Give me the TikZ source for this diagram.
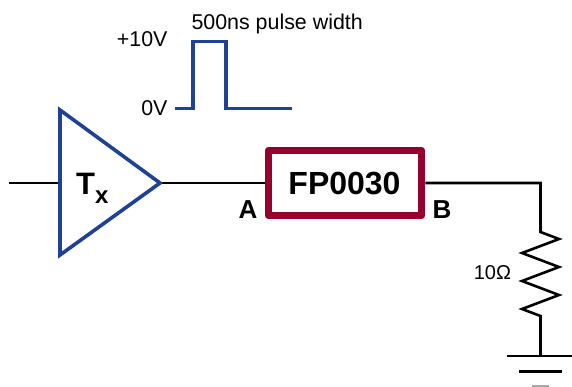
\documentclass[tikz,border=0pt]{standalone}
\usepackage{fontspec}
\setmainfont{Liberation Sans}
\definecolor{pulseblue}{RGB}{31,66,150}
\definecolor{boxred}{RGB}{150,0,46}
\tikzset{
  wire/.style={draw=black,line width=2.6pt,line cap=butt,line join=miter},
  bluepath/.style={draw=pulseblue,line width=3.6pt,line join=miter},
  lab/.style={inner sep=0pt,outer sep=0pt,text=black},
  boxstyle/.style={draw=boxred,line width=7.5pt,line join=round,fill=white,minimum width=153pt,minimum height=65pt,inner sep=0pt},
}
\begin{document}
\begin{tikzpicture}[x=1pt,y=-1pt]
\useasboundingbox (0,0) rectangle (572,386);
\fill[white] (0,0) rectangle (572,386);
% connection points
\coordinate (in) at (9,183);
\coordinate (tl) at (60,110);
\coordinate (bl) at (60,255);
\coordinate (tip) at (160,183);
\coordinate (tm) at (60,183);
\coordinate (corner) at (540.5,183);
\coordinate (rtop) at (540.5,232);
\coordinate (rbot) at (540.5,316);
\coordinate (gnd) at (540.5,355);
\coordinate (g1l) at (507,356);
\coordinate (g1r) at (572,356);
\coordinate (g2l) at (519,371.5);
\coordinate (g2r) at (562,371.5);
\coordinate (g3l) at (532,385.5);
\coordinate (g3r) at (549,385.5);
% wires
\node[boxstyle] (fp) at (345,183) {};
\draw[wire] (in) -- (tm);
\draw[wire] (tip) -- (fp.west);
\draw[wire] (fp.east) -- (corner) -- (rtop)
  -- (559,239) -- (522,253) -- (559,267) -- (522,281) -- (559,295) -- (522,309) -- (rbot) -- (gnd);
\draw[wire] (g1l) -- (g1r);
\draw[wire] (g2l) -- (g2r);
\draw[draw=gray!70,line width=2pt] (g3l) -- (g3r);
% amplifier
\draw[bluepath] (tl) -- (tip) -- (bl) -- cycle;
% pulse
\coordinate (p0) at (175,108.5);
\coordinate (p1) at (193,108.5);
\coordinate (p2) at (193,41.5);
\coordinate (p3) at (226,41.5);
\coordinate (p4) at (226,108.5);
\coordinate (p5) at (292,108.5);
\draw[bluepath] (p0) -- (p1) -- (p2) -- (p3) -- (p4) -- (p5);
% labels
\node[lab,font=\fontsize{32}{33}\bfseries\selectfont] (fptext) at (344.5,183.5) {FP0030};
\node[lab,anchor=base west,font=\fontsize{31}{32}\bfseries\selectfont] (tt) at (76,194) {T};
\node[lab,anchor=base west,font=\fontsize{24}{24}\bfseries\selectfont] (tx) at (95,203.5) {x};
\node[lab,anchor=base,font=\fontsize{26}{26}\bfseries\selectfont] (a) at (248,218.5) {A};
\node[lab,anchor=base,font=\fontsize{26}{26}\bfseries\selectfont] (b) at (442,218.5) {B};
\node[lab,anchor=base west,font=\fontsize{21.4}{22}\selectfont] (w) at (191.5,29) {500ns pulse width};
\node[lab,anchor=base east,font=\fontsize{21.4}{22}\selectfont] (v1) at (167.5,46) {+10V};
\node[lab,anchor=base east,font=\fontsize{21.4}{22}\selectfont] (v0) at (167.5,115.5) {0V};
\node[lab,anchor=base east,font=\fontsize{20}{20}\selectfont] (r) at (511,279) {10Ω};
\end{tikzpicture}
\end{document}
